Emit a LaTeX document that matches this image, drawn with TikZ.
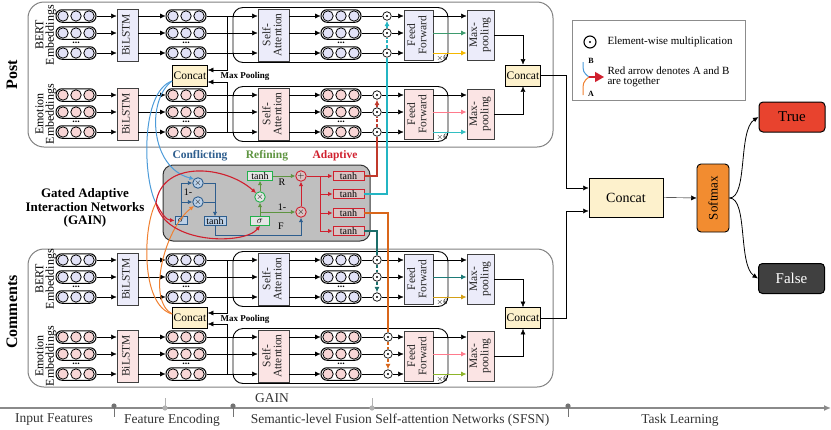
\documentclass[tikz,border=0pt]{standalone}
\usepackage{fontspec}
\setmainfont{Liberation Serif}
\usepackage{graphicx}
\usetikzlibrary{arrows.meta}

\definecolor{bertbox}{HTML}{ECECFA}
\definecolor{bertvec}{HTML}{E2E2F7}
\definecolor{emobox}{HTML}{FBE4E4}
\definecolor{emovec}{HTML}{F8D6D6}
\definecolor{catfill}{HTML}{FDF1CC}
\definecolor{softfill}{HTML}{F28C30}
\definecolor{truefill}{HTML}{E8432E}
\definecolor{falsefill}{HTML}{404040}
\definecolor{gainfill}{HTML}{BFBFBF}
\definecolor{cblue}{HTML}{2E5E8E}
\definecolor{cfill}{HTML}{BCD0E6}
\definecolor{lblue}{HTML}{4C9BD9}
\definecolor{rgreen}{HTML}{5E9440}
\definecolor{gbox}{HTML}{22B14C}
\definecolor{ared}{HTML}{D0202E}
\definecolor{afill}{HTML}{D8C4C4}
\definecolor{lorange}{HTML}{F08030}
\definecolor{lteal}{HTML}{23B5C3}
\definecolor{dteal}{HTML}{1B6E6A}
\definecolor{dorange}{HTML}{D9661A}
\definecolor{brred}{HTML}{C0392B}
\definecolor{ffgreen}{HTML}{3E9B6E}
\definecolor{ffyellow}{HTML}{F5B800}
\definecolor{ffpink}{HTML}{FF7A8C}
\definecolor{ffteal}{HTML}{33BFC2}
\definecolor{ffdteal}{HTML}{1E7B78}
\definecolor{ffgold}{HTML}{D4A017}
\definecolor{ffolive}{HTML}{8DB52A}
\definecolor{tlgray}{HTML}{8A8A8A}

\newcommand{\vtext}[1]{\rotatebox{90}{\begin{tabular}{@{}c@{}}#1\end{tabular}}}
\newcommand{\vecrow}[4]{%
  \node[vec] (#1) at (#2,#3) {};
  \foreach \k in {-13,0,13}
    \draw[line width=0.8pt, fill=#4] ([xshift=\k pt]#1.center) circle (5.2pt);
}

\tikzset{
  >={Latex[length=5.5pt,width=5pt]},
  every node/.style={font=\fontsize{11}{11}\selectfont},
  vec/.style={draw, line width=1pt, rounded corners=6pt, minimum width=40pt, minimum height=12.5pt, inner sep=0pt},
  blk/.style={draw=black!75, line width=0.8pt, inner sep=0pt, text=black!85, font=\fontsize{11.5}{11}\selectfont},
  innerbox/.style={draw, line width=0.9pt, rounded corners=10pt, minimum width=215pt, minimum height=55pt, inner sep=0pt},
  panel/.style={draw=black!50, line width=1pt, rounded corners=16pt, inner sep=0pt},
  catbox/.style={draw, line width=0.8pt, fill=catfill, minimum width=35pt, minimum height=21pt, inner sep=0pt, font=\fontsize{11.5}{11}\selectfont},
  odot/.style={circle, draw, line width=0.7pt, minimum size=8.5pt, inner sep=0pt,
    path picture={\fill (path picture bounding box.center) circle (1.1pt);}},
  gsmall/.style={draw, line width=0.9pt, minimum height=8.5pt, inner sep=0pt, font=\fontsize{10}{10}\selectfont},
  mulc/.style={circle, draw, line width=0.9pt, minimum size=10.5pt, inner sep=0pt, font=\fontsize{9}{9}\selectfont},
  garr/.style={-{Latex[length=4.5pt,width=4.5pt]}, line width=0.9pt},
  gate/.style={line width=1.1pt},
  mpool/.style={font=\fontsize{9}{9}\selectfont\bfseries},
  tltext/.style={font=\fontsize{13.5}{13.5}\selectfont, text=black!80},
}

\begin{document}
\begin{tikzpicture}[x=1pt, y=-1pt]
\useasboundingbox (0,0) rectangle (831,429);

% panels
\node[panel, minimum width=525pt, minimum height=145pt] (post) at (290.5,74.5) {};
\node[panel, minimum width=525pt, minimum height=138pt] (comm) at (290.5,318) {};
\node[rotate=90, font=\fontsize{16}{16}\selectfont\bfseries] (postlbl) at (12,75) {Post};
\node[rotate=90, font=\fontsize{16}{16}\selectfont\bfseries] (commlbl) at (12,312) {Comments};
\foreach \yc/\txt in {35/BERT,114/Emotion,279/BERT,356/Emotion}
  \node[rotate=90, align=center, font=\fontsize{12}{10.5}\selectfont] (emb\yc) at (46,\yc) {\txt\\Embeddings};

% GAIN
\node[draw=black!80, line width=1pt, fill=gainfill, rounded corners=10pt, minimum width=207pt, minimum height=76pt] (gain) at (266.5,203) {};
\node[align=center, font=\fontsize{13}{13.5}\selectfont\bfseries] (gainlbl) at (85,208) {Gated Adaptive\\Interaction Networks\\(GAIN)};
\node[font=\fontsize{11.5}{11}\selectfont\bfseries, text=cblue] (conf) at (200,156) {Conflicting};
\node[font=\fontsize{11.5}{11}\selectfont\bfseries, text=rgreen] (refi) at (267,156) {Refining};
\node[font=\fontsize{11.5}{11}\selectfont\bfseries, text=ared] (adap) at (335,156) {Adaptive};

% four streams
\foreach \b/\yc/\fc/\vc/\ox/\ca/\cb in {pb/35/bertbox/bertvec/387/ffgreen/ffyellow,pe/114/emobox/emovec/377/ffpink/ffteal,cb/279/bertbox/bertvec/377/ffdteal/ffgold,ce/356/emobox/emovec/388/ffpink/ffolive}{
  \pgfmathsetmacro\ya{\yc-19}
  \pgfmathsetmacro\yb{\yc-2}
  \pgfmathsetmacro\yd{\yc+18}
  \node[innerbox] (\b-in) at (340.5,\yc) {};
  \node[font=\fontsize{8}{8}\selectfont, anchor=south east, inner sep=1pt] (\b-x6) at (\b-in.south east) {$\times$6};
  \node[blk, fill=\fc, minimum width=21pt, minimum height=52pt] (\b-bil) at (127.5,\yc) {\vtext{BiLSTM}};
  \node[blk, fill=\fc, minimum width=31pt, minimum height=52pt] (\b-sa) at (273.5,\yc) {\vtext{Self-\\Attention}};
  \node[blk, fill=\fc, minimum width=29pt, minimum height=50pt] (\b-ff) at (418.5,\yc) {\vtext{Feed\\Forward}};
  \node[blk, fill=\fc, minimum width=27pt, minimum height=50pt] (\b-mp) at (480.5,\yc) {\vtext{Max-\\pooling}};
  \foreach \r/\yy in {1/\ya,2/\yb,3/\yd}{
    \vecrow{\b-a\r}{76}{\yy}{\vc}
    \vecrow{\b-b\r}{186}{\yy}{\vc}
    \vecrow{\b-c\r}{341}{\yy}{\vc}
    \node[odot] (\b-o\r) at (\ox,\yy) {};
    \draw[->] (\b-a\r.east) -- (\b-bil.west |- \b-a\r);
    \draw[->] (\b-bil.east |- \b-b\r) -- (\b-b\r.west);
    \draw[->] (\b-b\r.east) -- (\b-sa.west |- \b-b\r);
    \draw[->] (\b-sa.east |- \b-c\r) -- (\b-c\r.west);
    \draw (\b-c\r.east) -- (\b-o\r.west);
    \draw[->] (\b-o\r.east) -- (\b-ff.west |- \b-o\r);
  }
  \draw[->] (\b-ff.east |- \b-o1) -- (\b-mp.west |- \b-o1);
  \draw[->, draw=\ca, line width=0.9pt] (\b-ff.east |- \b-o2) -- (\b-mp.west |- \b-o2);
  \draw[->, draw=\cb, line width=0.9pt] (\b-ff.east |- \b-o3) -- (\b-mp.west |- \b-o3);
  \foreach \x in {a,b,c}
    \node[font=\fontsize{10}{10}\selectfont\bfseries, inner sep=0pt, anchor=south] (\b-\x d) at ([yshift=2pt]\b-\x3.north) {...};
}

% max pooling into concat
\node[catbox] (pmc) at (190,76) {Concat};
\node[catbox] (cmc) at (190,318) {Concat};
\node[mpool] (pmlbl) at (245,76) {Max Pooling};
\node[mpool] (cmlbl) at (245,319) {Max Pooling};
\draw[->] (pb-b1.east) ++(21,0) |- ([yshift=6pt]pmc.east);
\draw[->] (pe-b3.east) ++(21,0) |- ([yshift=-6pt]pmc.east);
\draw[->] (cb-b1.east) ++(21,0) |- ([yshift=5pt]cmc.east);
\draw[->] (ce-b3.east) ++(21,0) |- ([yshift=-6pt]cmc.east);

% concat after max-pooling
\node[catbox] (pcat) at (523,75.5) {Concat};
\node[catbox] (ccat) at (523,318) {Concat};
\draw[->] (pb-mp.east) -| (pcat.north);
\draw[->] (pe-mp.east) -| (pcat.south);
\draw[->] (cb-mp.east) -| (ccat.north);
\draw[->] (ce-mp.east) -| (ccat.south);

% task learning
\node[draw, line width=0.9pt, fill=catfill, minimum width=74pt, minimum height=39pt, font=\fontsize{14}{14}\selectfont] (bcat) at (626,197.5) {Concat};
\node[draw, line width=0.9pt, fill=softfill, rounded corners=4pt, minimum width=32pt, minimum height=68pt, inner sep=0pt, font=\fontsize{13}{13}\selectfont] (sm) at (713,198) {\rotatebox{90}{Softmax}};
\node[draw, line width=1pt, fill=truefill, rounded corners=4pt, minimum width=66pt, minimum height=30pt, font=\fontsize{15}{15}\selectfont] (tru) at (792,117) {True};
\node[draw, line width=1pt, fill=falsefill, text=white, rounded corners=4pt, minimum width=66pt, minimum height=30pt, font=\fontsize{15}{15}\selectfont] (fal) at (791.5,278.5) {False};
\draw[->] (pcat.east) -- ++(25,0) |- ([yshift=9.5pt]bcat.west);
\draw[->] (ccat.east) -- ++(25,0) |- ([yshift=-13.5pt]bcat.west);
\draw[->] (bcat.east) -- (sm.west);
\draw[->, line width=0.8pt] (sm.east) .. controls (748,198) and (738,130) .. (tru.west);
\draw[->, line width=0.8pt] (sm.east) .. controls (748,198) and (738,265) .. (fal.west);

% legend
\node[draw=black!45, line width=1pt, minimum width=173pt, minimum height=80pt] (leg) at (658.5,60) {};
\node[odot, minimum size=12pt, line width=1.1pt] (legdot) at (590,42) {};
\node[anchor=west] (legt1) at (604,42) {Element-wise multiplication};
\coordinate (legB) at (583,62);
\coordinate (legA) at (583,95);
\coordinate (legJ) at (589,77);
\coordinate (legE) at (604,77);
\draw[lblue, line width=1pt] (legB) .. controls (583,72) .. (legJ);
\draw[lorange, line width=1pt] (legA) .. controls (583,82) .. (legJ);
\draw[ared, line width=1.3pt, -{Triangle[length=9pt,width=10pt]}] (legJ) -- (legE);
\node[font=\fontsize{8}{8}\selectfont\bfseries] (legBl) at (591,61) {B};
\node[font=\fontsize{8}{8}\selectfont\bfseries] (legAl) at (591,94) {A};
\node[anchor=west, align=left, font=\fontsize{11}{9.5}\selectfont] (legt2) at (604,77) {Red arrow denotes A and B\\are together};

% GAIN inside: conflicting
\node[mulc, draw=cblue, fill=cfill] (cx1) at (198,183) {$\times$};
\node[mulc, draw=cblue, fill=cfill] (cx2) at (198,202) {$\times$};
\node[gsmall, draw=cblue, fill=cfill, minimum width=12pt] (csig) at (181,220.5) {$\sigma$};
\node[gsmall, draw=cblue, fill=cfill, minimum width=22pt] (ctanh) at (215,221) {tanh};
\node[font=\fontsize{10}{10}\selectfont] (c1m) at (188,192) {1-};
% refining
\node[gsmall, draw=gbox, fill=gray!20, minimum width=25pt] (rtanh) at (260,176) {tanh};
\node[mulc, draw=gbox, fill=gray!20] (rx) at (260,197) {$\times$};
\node[gsmall, draw=gbox, fill=gray!20, minimum width=19pt] (rsig) at (260,221) {$\sigma$};
% adaptive
\node[mulc, draw=ared, fill=afill] (aplus) at (301,176) {$+$};
\node[mulc, draw=ared, fill=afill] (ax) at (301,212) {$\times$};
\foreach \i/\yy in {1/176,2/194,3/213,4/231}
  \node[gsmall, draw=ared, fill=afill, minimum width=31pt] (t\i) at (348.5,\yy) {tanh};
\node[font=\fontsize{10}{10}\selectfont] (rlbl) at (282,182) {R};
\node[font=\fontsize{10}{10}\selectfont] (r1m) at (282,207) {1-};
\node[font=\fontsize{10}{10}\selectfont] (flbl) at (281,226.5) {F};

\draw[garr, cblue] (csig.north) |- (cx1.west);
\draw[garr, cblue] (csig.north) |- (cx2.west);
\draw[garr, cblue] (cx1.east) -| (ctanh.north);
\draw[cblue, line width=0.9pt] (cx2.east) -- (cx2.east -| ctanh.north);
\draw[garr, cblue] (ctanh.south) -- ++(0,10) -| (ax.south);
\draw[garr, rgreen] (rsig.north) -- (rx.south);
\draw[garr, rgreen] (rx.north) -- (rtanh.south);
\draw[garr, rgreen] (rsig.north |- ax.west) -- (ax.west);
\draw[garr, rgreen] (rtanh.east) -- (aplus.west);
\draw[garr, ared] (ax.north) -- (aplus.south);
\draw[garr, ared] (aplus.east) -- (t1.west);
\path (aplus.east) ++(14,0) coordinate (aj);
\foreach \i in {2,3,4}
  \draw[garr, ared] (aj) |- (t\i.west);

% inputs of GAIN
\coordinate (M) at (156,203);
\draw[lblue, line width=1pt] ([yshift=-5pt]pmc.west) .. controls (140,92) and (143,180) .. (M);
\draw[garr, lblue, line width=1pt] ([yshift=-5pt]pmc.west) .. controls (146,100) and (150,168) .. (cx1.north west);
\draw[lorange, line width=1pt] ([yshift=4pt]cmc.west) .. controls (140,305) and (143,225) .. (M);
\draw[garr, lorange, line width=1pt] ([yshift=4pt]cmc.west) .. controls (146,300) and (165,228) .. (cx2.south west);
\draw[garr, ared, line width=1.1pt] (M) .. controls (162,214) and (166,220) .. (csig.west);
\draw[garr, ared, line width=1.1pt] (M) .. controls (162,160) and (225,165) .. (rx.north west);
\draw[garr, ared, line width=1.1pt] (M) .. controls (165,245) and (245,245) .. (rsig.south);

% gates back to the streams
\draw[gate, lteal] (t2.east) -| (pb-o3.south);
\draw[gate, lteal, dash pattern=on 3pt off 2pt] (pb-o3.north) -- (pb-o2.south);
\draw[gate, lteal, dash pattern=on 3pt off 2pt, ->] (pb-o2.north) -- (pb-o1.south);
\draw[gate, brred] (t1.east) -| (pe-o3.south);
\draw[gate, brred, dash pattern=on 3pt off 2pt] (pe-o3.north) -- (pe-o2.south);
\draw[gate, brred, dash pattern=on 3pt off 2pt, ->] (pe-o2.north) -- (pe-o1.south);
\draw[gate, dteal] (t4.east) -| (cb-o1.north);
\draw[gate, dteal, dash pattern=on 3pt off 2pt] (cb-o1.south) -- (cb-o2.north);
\draw[gate, dteal, dash pattern=on 3pt off 2pt, ->] (cb-o2.south) -- (cb-o3.north);
\draw[gate, dorange] (t3.east) -| (ce-o1.north);
\draw[gate, dorange, dash pattern=on 3pt off 2pt] (ce-o1.south) -- (ce-o2.north);
\draw[gate, dorange, dash pattern=on 3pt off 2pt, ->] (ce-o2.south) -- (ce-o3.north);

% timeline
\coordinate (tl0) at (0,408);
\coordinate (tl1) at (831,408);
\draw[tlgray, line width=1.4pt, -{Latex[length=7pt,width=6pt]}] (tl0) -- (tl1);
\foreach \x in {114,233,568}{
  \draw[black!55, line width=1pt] (\x,407) -- (\x,417);
  \fill[black!55] (\x,406) circle (2.6pt);
}
\foreach \x in {165,372}{
  \draw[black!30, line width=1pt] (\x,408) -- (\x,398);
  \fill[black!30] (\x,408) circle (2.6pt);
}
\node[tltext] (tlin) at (54,420) {Input Features};
\node[tltext] (tlfe) at (172,420) {Feature Encoding};
\node[tltext] (tlga) at (272,398) {GAIN};
\node[tltext] (tlsf) at (400,420) {Semantic-level Fusion Self-attention Networks (SFSN)};
\node[tltext] (tltl) at (680,420) {Task Learning};
\end{tikzpicture}
\end{document}
